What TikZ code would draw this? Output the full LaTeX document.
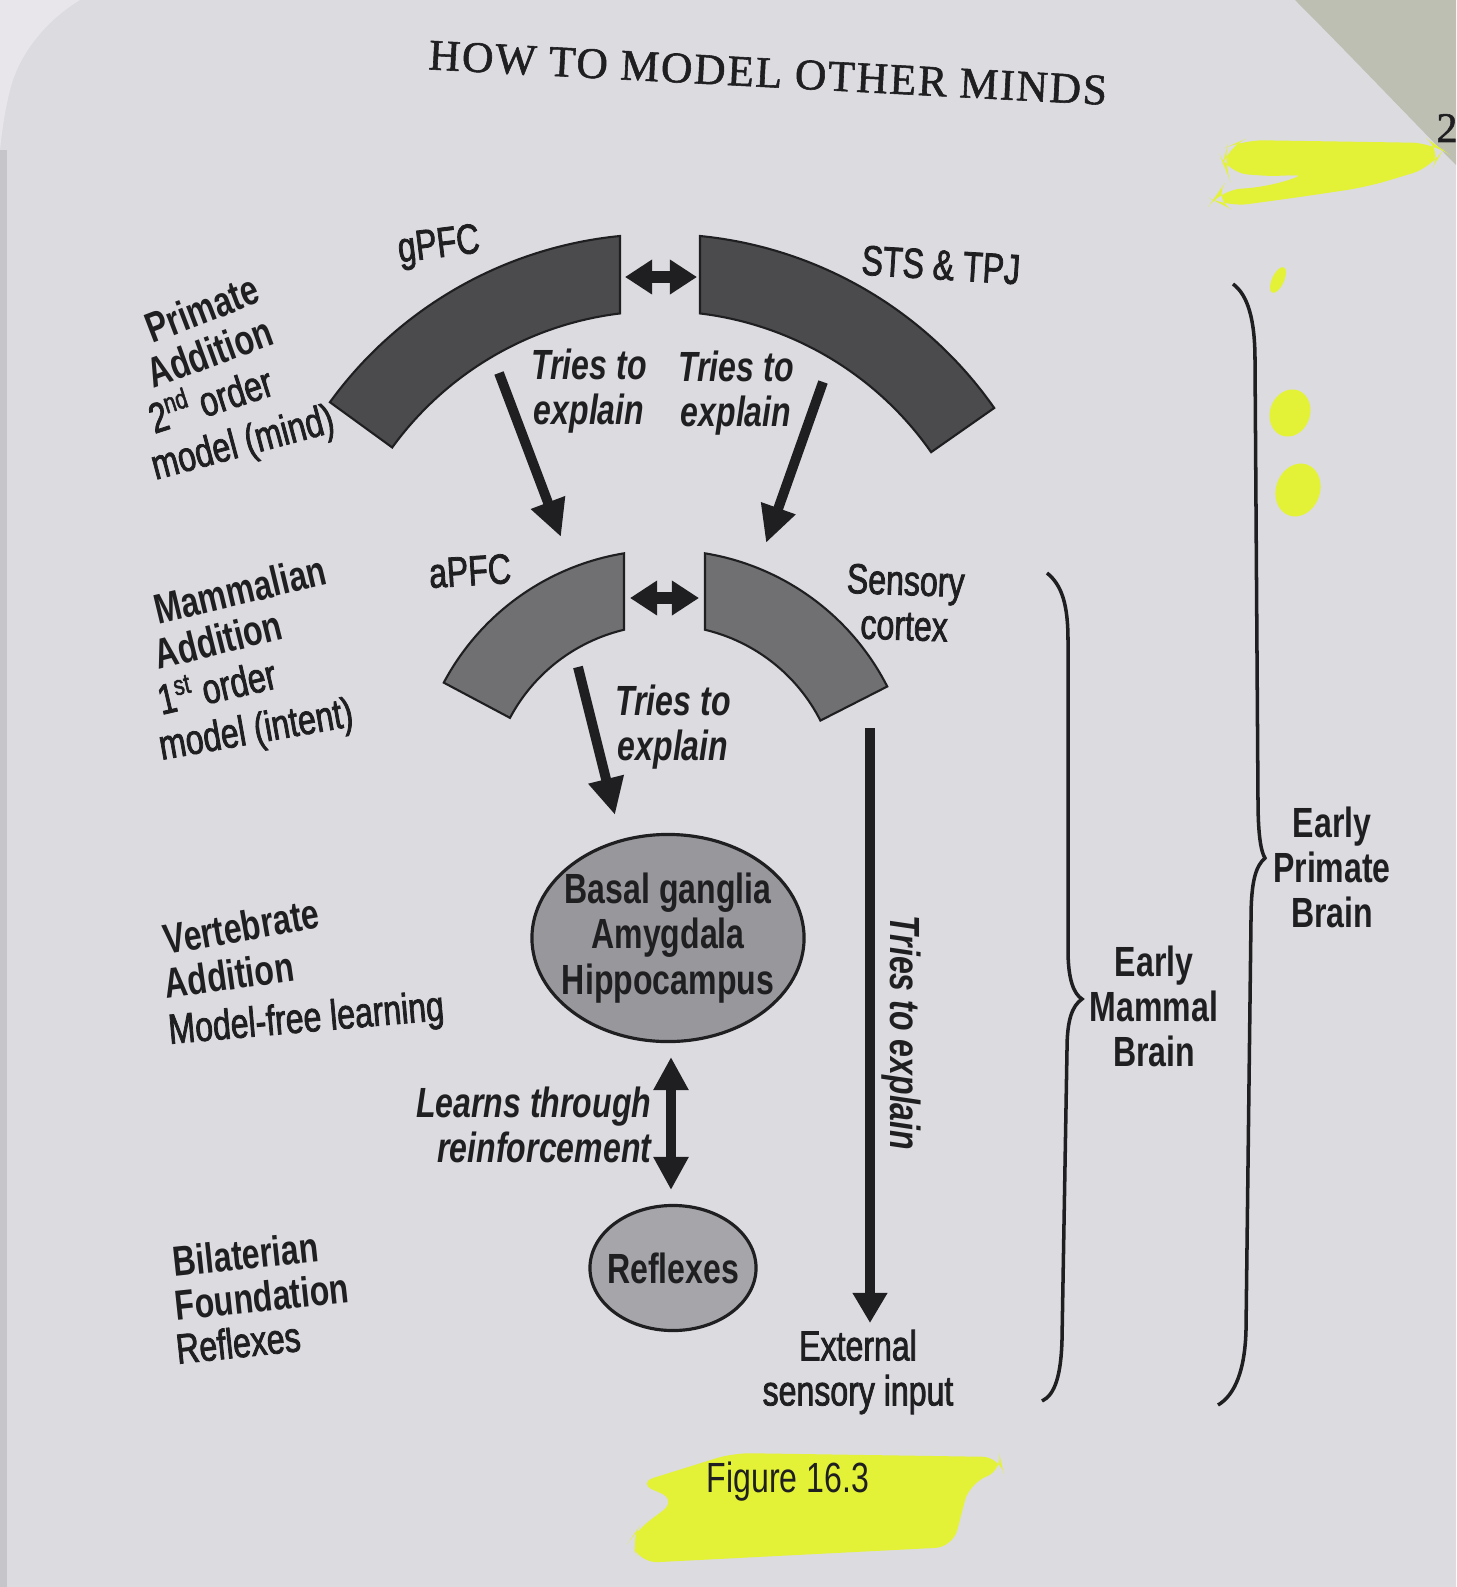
\documentclass[tikz,border=0pt]{standalone}
\usepackage{fontspec}
\setmainfont{Liberation Sans}[FakeStretch=0.76]
\newfontfamily\medfont{Liberation Sans}[FakeStretch=0.76,FakeBold=1.8]
\newfontfamily\hdrfont{Liberation Serif}[LetterSpace=4,FakeBold=1.3]
\usetikzlibrary{arrows.meta,shapes.geometric}
\definecolor{page}{HTML}{DCDCE0}
\definecolor{ink}{HTML}{1F1F22}
\definecolor{arcdark}{HTML}{4B4B4E}
\definecolor{arcmid}{HTML}{707073}
\definecolor{ellA}{HTML}{98989C}
\definecolor{ellB}{HTML}{A6A6AA}
\definecolor{hl}{HTML}{E3F236}
\definecolor{outside}{HTML}{BDBFB3}
\definecolor{outlight}{HTML}{E8E6EA}
\tikzset{
  lbl/.style={font=\fontsize{12}{12.8}\selectfont, text=ink, align=center, inner sep=0pt},
  medlbl/.style={lbl, font=\fontsize{12}{12.8}\selectfont\medfont},
  trylbl/.style={lbl, font=\fontsize{12}{12.8}\selectfont\bfseries\itshape},
  headline/.style={lbl, anchor=base west, font=\fontsize{12}{12.8}\selectfont\bfseries},
  subline/.style={lbl, anchor=base west, font=\fontsize{12}{12.8}\selectfont\medfont},
  bracelbl/.style={lbl, font=\fontsize{12}{12.8}\selectfont\bfseries},
  arcshape/.style={draw=ink, line width=0.6pt},
  bigarrow/.style={draw=ink, line width=2.8pt, -{Triangle[length=10.5pt,width=9.7pt]}},
  longarrow/.style={draw=ink, line width=2.8pt, -{Triangle[length=8.6pt,width=9.4pt]}},
  twoway/.style={draw=ink, line width=3.3pt, {Triangle[length=7.7pt,width=9.4pt]}-{Triangle[length=7.7pt,width=9.4pt]}},
  learnway/.style={draw=ink, line width=2.6pt, {Triangle[length=9.4pt,width=9.4pt]}-{Triangle[length=9.4pt,width=9.4pt]}},
  ellshape/.style={ellipse, draw=ink, line width=0.9pt, inner sep=0pt},
  elltext/.style={lbl, font=\fontsize{12}{13}\selectfont\bfseries},
  bracepath/.style={draw=ink, line width=1pt},
}
\begin{document}
\begin{tikzpicture}[x=0.01cm, y=0.01cm]
\useasboundingbox (0,0) rectangle (1456,-1587);
% page background and photo surroundings
\fill[page] (0,0) rectangle (1456,-1587);
\fill[outlight] (0,0) -- (80,0) .. controls (50,-18) and (20,-50) .. (10,-90) .. controls (5,-110) and (2,-130) .. (0,-150) -- cycle;
\fill[page!80!black!50!page] (0,-150) rectangle (7,-1587);
\fill[outside] (1295,0) -- (1456,0) -- (1456,-165) .. controls (1400,-108) and (1345,-50) .. (1295,0) -- cycle;
% highlighter marks
\fill[hl, rounded corners=6] (1227,-147) -- (1243,-140) -- (1433,-143) -- (1443,-150) -- (1433,-167) -- (1367,-187) -- (1300,-197) -- (1227,-207) -- (1213,-200) -- (1220,-190) -- (1267,-187) -- (1310,-173) -- (1283,-177) -- (1227,-173) -- (1223,-163) -- cycle;
\fill[hl, rotate around={-25:(1278,-280)}] (1278,-280) ellipse[x radius=6, y radius=14];
\fill[hl, rotate around={-20:(1290,-413)}] (1290,-413) ellipse[x radius=20, y radius=24];
\fill[hl, rotate around={-20:(1298,-490)}] (1298,-490) ellipse[x radius=22, y radius=27];
\fill[hl, rounded corners=5] (637,-1483) -- (733,-1453) -- (1000,-1457) -- (1003,-1470) -- (970,-1483) -- (965,-1500) -- (953,-1547) -- (640,-1563) -- (630,-1540) -- (637,-1530) -- (677,-1500) -- cycle;

% header and page number
\node[font=\fontsize{12.4}{13}\selectfont\hdrfont, text=ink, inner sep=0pt, rotate=-3] (hdr) at (768,-73) {HOW TO MODEL OTHER MINDS};
\node[font=\fontsize{12}{13}\selectfont\hdrfont, text=ink, inner sep=0pt] (pgno) at (1447,-128) {2};

% top arcs (gPFC, STS & TPJ)
\filldraw[arcshape, fill=arcdark, shift={(660,-642)}] (95.63:408) arc[start angle=95.63, end angle=144, radius=408] -- (144:331) arc[start angle=144, end angle=96.94, radius=331] -- cycle;
\filldraw[arcshape, fill=arcdark, shift={(660,-642)}] (84.37:408) arc[start angle=84.37, end angle=35, radius=408] -- (35:331) arc[start angle=35, end angle=83.06, radius=331] -- cycle;
% middle arcs (aPFC, Sensory cortex)
\filldraw[arcshape, fill=arcmid, shift={(664.5,-800)}] (99.32:250) arc[start angle=99.32, end angle=152, radius=250] -- (152:175) arc[start angle=152, end angle=103.38, radius=175] -- cycle;
\filldraw[arcshape, fill=arcmid, shift={(664.5,-800)}] (80.68:250) arc[start angle=80.68, end angle=27, radius=250] -- (27:175) arc[start angle=27, end angle=76.62, radius=175] -- cycle;

% labels of arcs
\node[medlbl, rotate=7] (gpfc) at (439,-247) {gPFC};
\node[medlbl, rotate=-3.5] (sts) at (941,-265) {STS \& TPJ};
\node[medlbl, rotate=3.5] (apfc) at (470,-571) {aPFC};
\node[medlbl, rotate=-2] (sens) at (905,-603) {Sensory\\cortex};

% left column labels (one node per line, following the page's tilt)
\node[headline, rotate=21] (p1) at (152,-344) {Primate};
\node[headline, rotate=20] (p2) at (153,-389) {Addition};
\node[subline, rotate=18] (p3) at (154,-434) {2\textsuperscript{nd} order};
\node[subline, rotate=15] (p4) at (155,-480) {model (mind)};
\node[headline, rotate=13.5] (m1) at (158,-625) {Mammalian};
\node[headline, rotate=14] (m2) at (158,-670) {Addition};
\node[subline, rotate=13] (m3) at (161,-715) {1\textsuperscript{st} order};
\node[subline, rotate=10] (m4) at (161,-760) {model (intent)};
\node[headline, rotate=10] (v1) at (166,-955) {Vertebrate};
\node[headline, rotate=8] (v2) at (166,-999) {Addition};
\node[subline, rotate=5] (v3) at (169,-1044) {Model-free learning};
\node[headline, rotate=6] (b1) at (174,-1277) {Bilaterian};
\node[headline, rotate=6] (b2) at (176,-1321) {Foundation};
\node[subline, rotate=6] (b3) at (177,-1364) {Reflexes};

% ellipses
\node[ellshape, fill=ellA, minimum width=2.72cm, minimum height=2.07cm] (bg) at (668,-938) {};
\node[elltext] (bgt) at (bg) {Basal ganglia\\Amygdala\\Hippocampus};
\node[ellshape, fill=ellB, minimum width=1.66cm, minimum height=1.25cm] (rf) at (673,-1268) {};
\node[elltext] (rft) at (rf) {Reflexes};

% two-way arrows between arcs
\coordinate (tw1a) at (625,-277);
\coordinate (tw1b) at (697,-277);
\coordinate (tw2a) at (630,-598);
\coordinate (tw2b) at (699,-598);
\draw[twoway] (tw1a) -- (tw1b);
\draw[twoway] (tw2a) -- (tw2b);

% "tries to explain" arrows
\coordinate (a1s) at (499,-373);
\coordinate (a1e) at (561,-537);
\coordinate (a2s) at (823,-382);
\coordinate (a2e) at (766,-543);
\coordinate (a3s) at (578,-667);
\coordinate (a3e) at (615,-815);
\draw[bigarrow] (a1s) -- (a1e);
\draw[bigarrow] (a2s) -- (a2e);
\draw[bigarrow] (a3s) -- (a3e);
\node[trylbl] (t1) at (589,-391) {Tries to\\explain};
\node[trylbl] (t2) at (736,-393) {Tries to\\explain};
\node[trylbl] (t3) at (673,-727) {Tries to\\explain};

% long arrow to external input
\coordinate (ls) at (870,-728);
\coordinate (le) at (870,-1323);
\draw[longarrow] (ls) -- (le);
\node[trylbl, rotate=-90] (t4) at (901,-1033) {Tries to explain};
\node[medlbl] (ext) at (858,-1372) {External\\sensory input};

% learning arrow
\coordinate (lr1) at (671,-1057);
\coordinate (lr2) at (671,-1190);
\draw[learnway] (lr1) -- (lr2);
\node[trylbl, align=right, anchor=east] (learn) at (652,-1125) {Learns through\\reinforcement};

% braces
\draw[bracepath] (1047,-573) .. controls (1062,-585) and (1068,-605) .. (1068,-640) -- (1068,-950) .. controls (1068,-980) and (1074,-994) .. (1082,-999) .. controls (1072,-1006) and (1067,-1020) .. (1067,-1050) -- (1062,-1340) .. controls (1061,-1375) and (1055,-1395) .. (1042,-1401);
\draw[bracepath] (1233,-284) .. controls (1248,-295) and (1255,-320) .. (1255,-360) -- (1258,-800) .. controls (1258,-835) and (1261,-852) .. (1265,-858) .. controls (1256,-866) and (1251,-880) .. (1251,-920) -- (1246,-1330) .. controls (1245,-1370) and (1235,-1395) .. (1218,-1405);
\node[bracelbl] (emb) at (1154,-1006) {Early\\Mammal\\Brain};
\node[bracelbl] (epb) at (1332,-867) {Early\\Primate\\Brain};

% caption
\node[lbl] (fig) at (788,-1482) {Figure 16.3};
\end{tikzpicture}
\end{document}
